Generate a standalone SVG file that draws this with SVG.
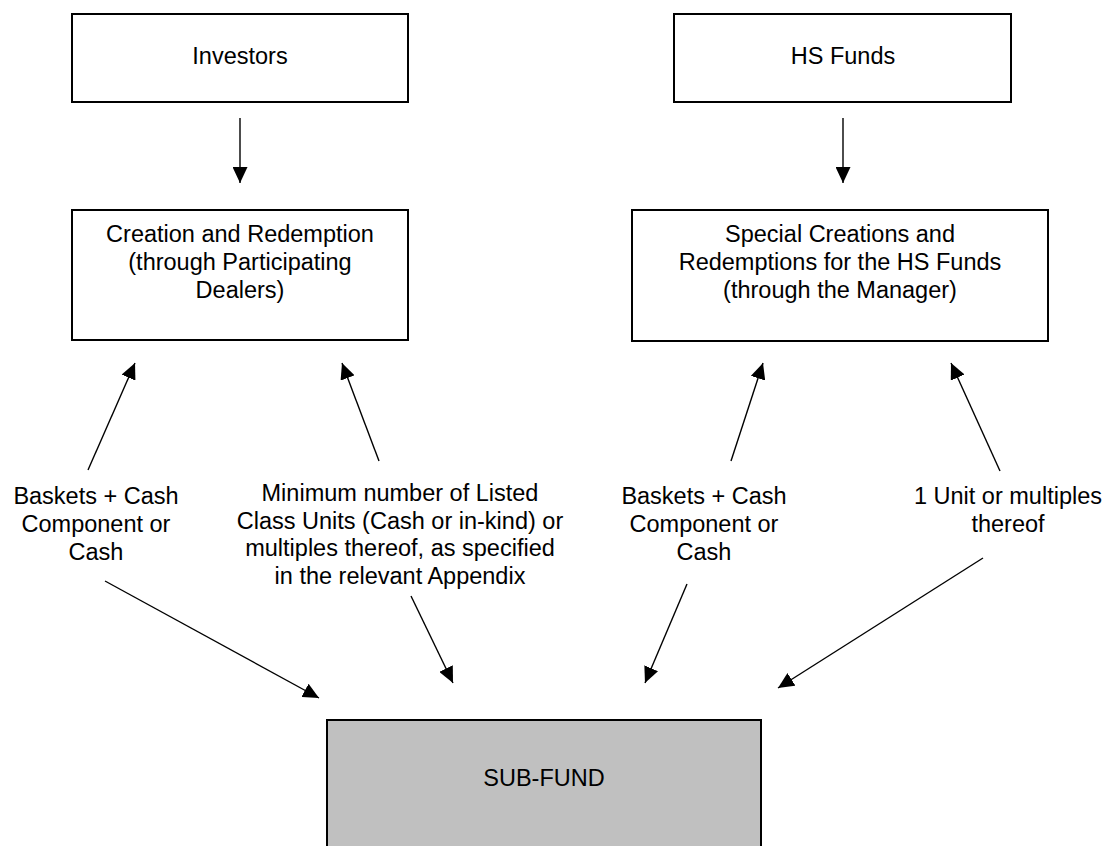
<svg xmlns="http://www.w3.org/2000/svg" width="1107" height="846" viewBox="0 0 1107 846">
<style>
.box{fill:#ffffff;stroke:#000000;stroke-width:2}
.sub{fill:#c0c0c0;stroke:#000000;stroke-width:2}
text{font-family:"Liberation Sans",Arial,sans-serif;font-size:23.5px;fill:#000000;text-anchor:middle}
.conn line{stroke:#000000;stroke-width:1.4;marker-end:url(#ah)}
</style>
<defs>
<marker id="ah" markerUnits="userSpaceOnUse" markerWidth="16" markerHeight="15" refX="16" refY="7.5" orient="auto">
<path d="M0,0 L16,7.5 L0,15 z" fill="#000000"/>
</marker>
</defs>
<rect width="1107" height="846" fill="#ffffff"/>
<g id="investors">
<rect class="box" x="72" y="14" width="336" height="88"/>
<text x="240" y="64">Investors</text>
</g>
<g id="hs-funds">
<rect class="box" x="674" y="14" width="337" height="88"/>
<text x="843" y="64">HS Funds</text>
</g>
<g id="creation">
<rect class="box" x="72" y="210" width="336" height="130"/>
<text x="240" y="242">Creation and Redemption</text>
<text x="240" y="270">(through Participating</text>
<text x="240" y="298">Dealers)</text>
</g>
<g id="special">
<rect class="box" x="632" y="210" width="416" height="131"/>
<text x="840" y="242">Special Creations and</text>
<text x="840" y="270">Redemptions for the HS Funds</text>
<text x="840" y="298">(through the Manager)</text>
</g>
<g id="sub-fund">
<rect class="sub" x="327" y="720" width="434" height="140"/>
<text x="544" y="786">SUB-FUND</text>
</g>
<g id="label-baskets-1">
<text x="96" y="504">Baskets + Cash</text>
<text x="96" y="532">Component or</text>
<text x="96" y="560">Cash</text>
</g>
<g id="label-minimum">
<text x="400" y="501">Minimum number of Listed</text>
<text x="400" y="528.5">Class Units (Cash or in-kind) or</text>
<text x="400" y="556">multiples thereof, as specified</text>
<text x="400" y="583.5">in the relevant Appendix</text>
</g>
<g id="label-baskets-2">
<text x="704" y="504">Baskets + Cash</text>
<text x="704" y="532">Component or</text>
<text x="704" y="560">Cash</text>
</g>
<g id="label-unit">
<text x="1008" y="504">1 Unit or multiples</text>
<text x="1008" y="532">thereof</text>
</g>
<g id="connectors" class="conn">
<line x1="240" y1="118" x2="240" y2="183"/>
<line x1="843" y1="118" x2="843" y2="183"/>
<line x1="88" y1="470" x2="135" y2="363"/>
<line x1="379" y1="461" x2="342" y2="363"/>
<line x1="731" y1="461" x2="763" y2="363"/>
<line x1="1000" y1="471" x2="951" y2="363"/>
<line x1="105" y1="581" x2="319" y2="698"/>
<line x1="411" y1="596" x2="453" y2="683"/>
<line x1="687" y1="584" x2="645" y2="683"/>
<line x1="983" y1="558" x2="778" y2="688"/>
</g>
</svg>
